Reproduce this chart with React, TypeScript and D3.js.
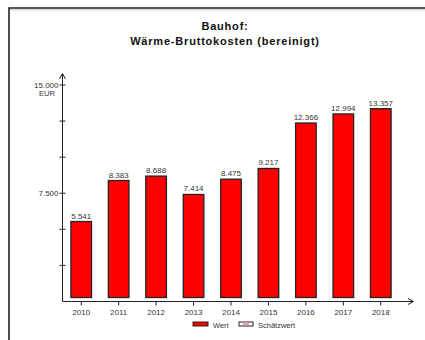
import React from "react";
import * as d3 from "d3";

const years = ["2010", "2011", "2012", "2013", "2014", "2015", "2016", "2017", "2018"];
const values = [5541, 8383, 8688, 7414, 8475, 9217, 12366, 12994, 13357];
const yTicks = [0, 2500, 5000, 7500, 10000, 12500, 15000];
const yLabels = [7500, 15000];
const titleLines = ["Bauhof:", "Wärme-Bruttokosten (bereinigt)"];
const legendItems = ["Wert", "Schätzwert"];

const fmt = (v: number) => d3.format(",")(v).replace(/,/g, ".");

export default function App() {
  const W = 425, H = 340;
  const axisX = 62.5, axisY = 301.5;
  const x = d3.scaleBand<string>().domain(years).range([62.5, 399.5]).paddingInner(0.45).paddingOuter(0.225);
  const y = d3.scaleLinear().domain([0, 15000]).range([axisY, 85]);
  const font = "'Liberation Sans', Arial, sans-serif";
  const txt = "#333";
  return (
    <svg width={W} height={H} style={{ position: "fixed", left: 0, top: 0, overflow: "hidden", display: "block" }} fontFamily={font}>
      <rect x={0} y={0} width={W} height={H} fill="#fff" />
      <path d={`M9,${H} L9,8 L${W},8`} fill="none" stroke="#222" strokeWidth={1.6} />
      <line x1={10} y1={9.8} x2={W} y2={9.8} stroke="#bbb" strokeWidth={0.8} />
      {titleLines.map((t, i) => (
        <text key={t} x={225} y={30 + i * 15} textAnchor="middle" fontSize={11} fontWeight="bold" letterSpacing={0.8} fill="#111">
          {t}
        </text>
      ))}
      {values.map((v, i) => {
        const bx = x(years[i])!;
        const top = y(v);
        return (
          <g key={years[i]}>
            <rect x={bx} y={top} width={x.bandwidth()} height={axisY - 4 - top} fill="#ff0000" stroke="#222" strokeWidth={1.3} />
            <text x={bx + x.bandwidth() / 2} y={top - 3} textAnchor="middle" fontSize={8} fill={txt}>
              {fmt(v)}
            </text>
          </g>
        );
      })}
      <line x1={axisX} y1={axisY} x2={axisX} y2={74} stroke="#222" strokeWidth={1} />
      <path d={`M${axisX - 3},79 L${axisX},73.5 L${axisX + 3},79`} fill="none" stroke="#222" strokeWidth={1} />
      {yTicks.filter((t) => t > 0).map((t) => (
        <line key={t} x1={axisX - 3} x2={axisX + 3} y1={y(t)} y2={y(t)} stroke="#222" strokeWidth={1} />
      ))}
      {yLabels.map((t) => (
        <text key={t} x={axisX - 4} y={y(t) + 3} textAnchor="end" fontSize={8} fill={txt}>
          {fmt(t)}
        </text>
      ))}
      <text x={47} y={y(15000) + 11} textAnchor="middle" fontSize={7.5} fill={txt}>EUR</text>
      <line x1={axisX} y1={axisY} x2={413} y2={axisY} stroke="#222" strokeWidth={1} />
      <path d={`M408,${axisY - 3} L413.5,${axisY} L408,${axisY + 3}`} fill="none" stroke="#222" strokeWidth={1} />
      {years.map((yr) => {
        const cx = x(yr)! + x.bandwidth() / 2;
        return (
          <g key={yr}>
            <line x1={cx} x2={cx} y1={axisY} y2={axisY + 4} stroke="#222" strokeWidth={1} />
            <text x={cx} y={axisY + 13} textAnchor="middle" fontSize={8} fill={txt}>{yr}</text>
          </g>
        );
      })}
      <rect x={193} y={322} width={15} height={4} fill="#ff0000" stroke="#222" strokeWidth={1} />
      <text x={213} y={327.5} fontSize={7.5} fill={txt}>{legendItems[0]}</text>
      <rect x={239} y={322} width={14} height={4} fill="#fff" stroke="#222" strokeWidth={1} />
      <rect x={243} y={322.5} width={6} height={2.5} fill="#f3a0a0" />
      <text x={258} y={327.5} fontSize={7.5} fill={txt}>{legendItems[1]}</text>
    </svg>
  );
}
